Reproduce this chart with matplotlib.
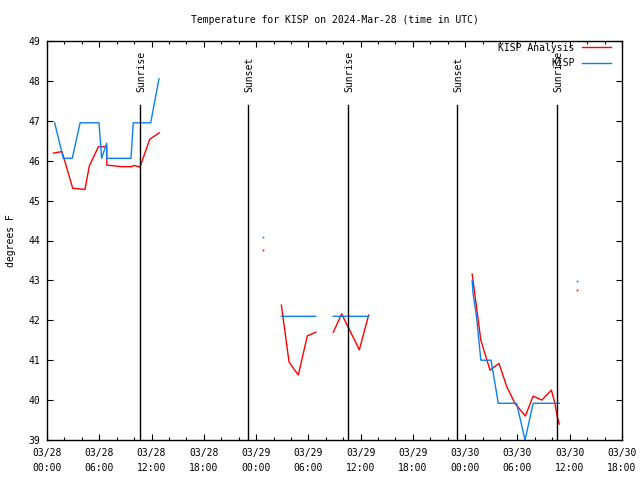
import numpy as np
import matplotlib
matplotlib.use("Agg")
import matplotlib.pyplot as plt
import matplotlib.transforms as mtransforms

nan = np.nan

# hours since 2024-03-28 00:00 UTC
anl_h = [0.73, 1.72, 2.95, 4.36, 4.86, 5.9, 6.85, 6.86, 8.57, 9.7, 10.0, 10.67, 11.8, 12.9,
         nan,
         26.9, 27.78, 28.27, 28.85, 29.88, 30.84,
         nan,
         32.86, 33.82, 35.85, 36.92,
         nan,
         48.8, 49.8, 50.85, 51.88, 52.77, 53.7, 54.9, 55.8, 56.8, 57.9, 58.3, 58.57, 58.8]
anl_t = [46.19, 46.23, 45.31, 45.28, 45.87, 46.35, 46.35, 45.89, 45.85, 45.85, 45.88, 45.84, 46.54, 46.7,
         nan,
         42.38, 40.96, 40.8, 40.63, 41.61, 41.7,
         nan,
         41.7, 42.16, 41.26, 42.13,
         nan,
         43.16, 41.5, 40.75, 40.92, 40.34, 39.92, 39.6, 40.1, 40.0, 40.25, 39.92, 39.58, 39.4]

obs_h = [0.88, 1.87, 2.9, 3.8, 5.97, 6.27, 6.85, 6.86, 9.64, 9.9, 11.9, 12.85,
         nan,
         26.9, 30.84,
         nan,
         32.86, 36.92,
         nan,
         48.8, 48.9, 49.3, 49.8, 50.97, 51.8, 53.9, 54.87, 55.8, 58.8]
obs_t = [46.95, 46.06, 46.06, 46.95, 46.95, 46.06, 46.44, 46.06, 46.06, 46.95, 46.95, 48.05,
         nan,
         42.1, 42.1,
         nan,
         42.1, 42.1,
         nan,
         43.0, 42.68, 42.09, 41.0, 41.0, 39.92, 39.92, 39.0, 39.92, 39.92]

# lone points
anl_pt_h = [24.8, 60.85]
anl_pt_t = [43.76, 42.76]
obs_pt_h = [24.8, 60.85]
obs_pt_t = [44.09, 42.98]

sun_h = [10.68, 23.08, 34.56, 47.07, 58.55]
sun_lbl = ["Sunrise", "Sunset", "Sunrise", "Sunset", "Sunrise"]

xtick_h = list(range(0, 67, 6))
xtick_lbl = ["03/28\n00:00", "03/28\n06:00", "03/28\n12:00", "03/28\n18:00",
             "03/29\n00:00", "03/29\n06:00", "03/29\n12:00", "03/29\n18:00",
             "03/30\n00:00", "03/30\n06:00", "03/30\n12:00", "03/30\n18:00"]

red = "#ff0000"
blue = "#0a80f0"
plt.rcParams['font.family'] = ['DejaVu Sans Mono']

fig = plt.figure(figsize=(6.4, 4.8), dpi=100)
ax = fig.add_axes([47/640, 40/480, 575/640, 399/480])

ax.plot(anl_h, anl_t, color=red, lw=1.0, label="KISP Analysis")
ax.plot(obs_h, obs_t, color=blue, lw=1.0, label="KISP")
ax.plot(anl_pt_h, anl_pt_t, 's', color=red, ms=1.2, mew=0)
ax.plot(obs_pt_h, obs_pt_t, 's', color=blue, ms=1.2, mew=0)

trans = mtransforms.blended_transform_factory(ax.transData, ax.transAxes)
for h, s in zip(sun_h, sun_lbl):
    ax.axvline(h, ymax=0.84, color="black", lw=1.0)
    ax.text(h + 0.1, 0.872, s, transform=trans, rotation=90, ha="center", va="bottom", fontsize=7)

ax.set_xlim(0, 66)
ax.set_ylim(39, 49)
ax.set_xticks(xtick_h)
ax.set_xticklabels(xtick_lbl, linespacing=1.6)
ax.set_xticks(range(0, 67, 2), minor=True)
ax.set_yticks(range(39, 50))
ax.tick_params(which="both", direction="in", top=True, right=True, labelsize=7, width=0.8)
ax.tick_params(which="major", length=4.5, pad=5)
ax.tick_params(axis="x", which="major", pad=6)
ax.tick_params(which="minor", length=2.5)
for sp in ax.spines.values():
    sp.set_linewidth(1.0)

ax.set_title("Temperature for KISP on 2024-Mar-28 (time in UTC)", fontsize=7, pad=13)
ax.set_ylabel("degrees F", fontsize=7, labelpad=9)

ax.legend(loc="upper right", frameon=False, markerfirst=False, fontsize=7,
          handlelength=3.0, borderaxespad=0.0, borderpad=0.1, labelspacing=0.55,
          handletextpad=0.7, bbox_to_anchor=(0.982, 0.998))

fig.savefig("out.png", dpi=100)
